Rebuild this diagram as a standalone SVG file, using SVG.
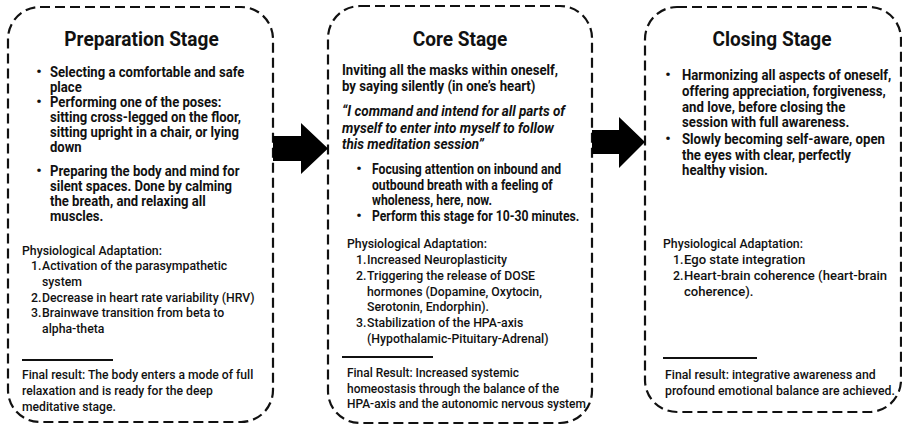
<svg xmlns="http://www.w3.org/2000/svg" width="902" height="425" viewBox="0 0 902 425">
<style>
text{font-family:Roboto,"Liberation Sans",sans-serif;fill:#111}
.h{font-size:20.5px;font-weight:700;text-anchor:middle}
.b{font-size:14.5px;font-weight:700}
.b1{font-size:14px;font-weight:700}
.q{font-size:15px;font-weight:700;font-style:italic}
.p{font-size:13.5px;font-weight:500}
.f{font-size:13.5px;font-weight:500}
.d{font-size:15px;font-weight:700;text-anchor:middle}
.box{fill:none;stroke:#111;stroke-width:2.2;stroke-dasharray:10 5}
.sep{stroke:#111;stroke-width:2}
.arrow{fill:#000}
</style>
<rect width="902" height="425" fill="#fff"/>

<g id="preparation">
<rect class="box" x="8" y="7" width="265" height="415" rx="32"/>
<g transform="translate(141.5 0) scale(0.93 1)"><text class="h" x="0" y="46">Preparation Stage</text></g>
<text class="d" x="39" y="77">•</text>
<text class="d" x="39" y="107">•</text>
<text class="d" x="39" y="176">•</text>
<g transform="translate(50 0) scale(0.935 1)">
<text class="b1" x="0" y="77">Selecting a comfortable and safe</text>
<text class="b1" x="0" y="92">place</text>
<text class="b1" x="0" y="107">Performing one of the poses:</text>
<text class="b1" x="0" y="122">sitting cross-legged on the floor,</text>
<text class="b1" x="0" y="137">sitting upright in a chair, or lying</text>
<text class="b1" x="0" y="152">down</text>
<text class="b1" x="0" y="176">Preparing the body and mind for</text>
<text class="b1" x="0" y="191">silent spaces. Done by calming</text>
<text class="b1" x="0" y="206">the breath, and relaxing all</text>
<text class="b1" x="0" y="221">muscles.</text>
</g>
<g transform="translate(22 0) scale(0.91 1)">
<text class="p" x="0" y="255">Physiological Adaptation:</text>
<text class="p" x="9.9" y="270">1.</text>
<text class="p" x="22" y="270">Activation of the parasympathetic</text>
<text class="p" x="22" y="286">system</text>
<text class="p" x="9.9" y="302">2.</text>
<text class="p" x="22" y="302">Decrease in heart rate variability (HRV)</text>
<text class="p" x="9.9" y="317">3.</text>
<text class="p" x="22" y="317">Brainwave transition from beta to</text>
<text class="p" x="22" y="333">alpha-theta</text>
</g>
<line class="sep" x1="22" y1="360" x2="113" y2="360"/>
<g transform="translate(22 0) scale(0.9 1)">
<text class="f" x="0" y="379">Final result: The body enters a mode of full</text>
<text class="f" x="0" y="395">relaxation and is ready for the deep</text>
<text class="f" x="0" y="411">meditative stage.</text>
</g>
</g>

<g id="core">
<rect class="box" x="328" y="6" width="264" height="417" rx="32"/>
<g transform="translate(460 0) scale(0.93 1)"><text class="h" x="0" y="46">Core Stage</text></g>
<g transform="translate(342 0) scale(0.91 1)">
<text class="b" x="0" y="75">Inviting all the masks within oneself,</text>
<text class="b" x="0" y="91">by saying silently (in one’s heart)</text>
</g>
<g transform="translate(342 0) scale(0.9 1)">
<text class="q" x="0" y="116">“I command and intend for all parts of</text>
<text class="q" x="0" y="133">myself to enter into myself to follow</text>
<text class="q" x="0" y="149">this meditation session”</text>
</g>
<text class="d" x="359" y="174">•</text>
<text class="d" x="359" y="221">•</text>
<g transform="translate(372 0) scale(0.84 1)">
<text class="b" x="0" y="174">Focusing attention on inbound and</text>
<text class="b" x="0" y="190">outbound breath with a feeling of</text>
<text class="b" x="0" y="205">wholeness, here, now.</text>
<text class="b" x="0" y="221">Perform this stage for 10-30 minutes.</text>
</g>
<g transform="translate(347 0) scale(0.91 1)">
<text class="p" x="0" y="248">Physiological Adaptation:</text>
<text class="p" x="9.9" y="264">1.</text>
<text class="p" x="22" y="264">Increased Neuroplasticity</text>
<text class="p" x="9.9" y="280">2.</text>
<text class="p" x="22" y="280">Triggering the release of DOSE</text>
<text class="p" x="22" y="296">hormones (Dopamine, Oxytocin,</text>
<text class="p" x="22" y="311">Serotonin, Endorphin).</text>
<text class="p" x="9.9" y="327">3.</text>
<text class="p" x="22" y="327">Stabilization of the HPA-axis</text>
<text class="p" x="22" y="343">(Hypothalamic-Pituitary-Adrenal)</text>
</g>
<line class="sep" x1="342" y1="357" x2="433" y2="357"/>
<g transform="translate(347 0) scale(0.885 1)">
<text class="f" x="0" y="377">Final Result: Increased systemic</text>
<text class="f" x="0" y="393">homeostasis through the balance of the</text>
<text class="f" x="0" y="408">HPA-axis and the autonomic nervous system</text>
</g>
</g>

<g id="closing">
<rect class="box" x="645" y="7" width="256" height="405" rx="32"/>
<g transform="translate(772 0) scale(0.93 1)"><text class="h" x="0" y="46">Closing Stage</text></g>
<text class="d" x="668" y="80">•</text>
<text class="d" x="668" y="144">•</text>
<g transform="translate(682 0) scale(0.91 1)">
<text class="b" x="0" y="80">Harmonizing all aspects of oneself,</text>
<text class="b" x="0" y="96">offering appreciation, forgiveness,</text>
<text class="b" x="0" y="112">and love, before closing the</text>
<text class="b" x="0" y="127">session with full awareness.</text>
<text class="b" x="0" y="144">Slowly becoming self-aware, open</text>
<text class="b" x="0" y="160">the eyes with clear, perfectly</text>
<text class="b" x="0" y="175">healthy vision.</text>
</g>
<g transform="translate(663 0) scale(0.91 1)">
<text class="p" x="0" y="248">Physiological Adaptation:</text>
<text class="p" x="11" y="264">1.</text>
<text class="p" x="11" y="280">2.</text>
</g>
<g transform="translate(684 0) scale(0.97 1)">
<text class="p" x="0" y="264">Ego state integration</text>
<text class="p" x="0" y="280">Heart-brain coherence (heart-brain</text>
<text class="p" x="0" y="296">coherence).</text>
</g>
<line class="sep" x1="663" y1="358" x2="757" y2="358"/>
<g transform="translate(665 0) scale(0.91 1)">
<text class="f" x="0" y="379">Final result: integrative awareness and</text>
<text class="f" x="0" y="395">profound emotional balance are achieved.</text>
</g>
</g>

<g id="connectors">
<polygon class="arrow" points="273,136 301,136 301,123 328,148.5 301,174 301,161 273,161"/>
<polygon class="arrow" points="592,130 619,130 619,117 645,142 619,168 619,154 592,154"/>
</g>
</svg>
